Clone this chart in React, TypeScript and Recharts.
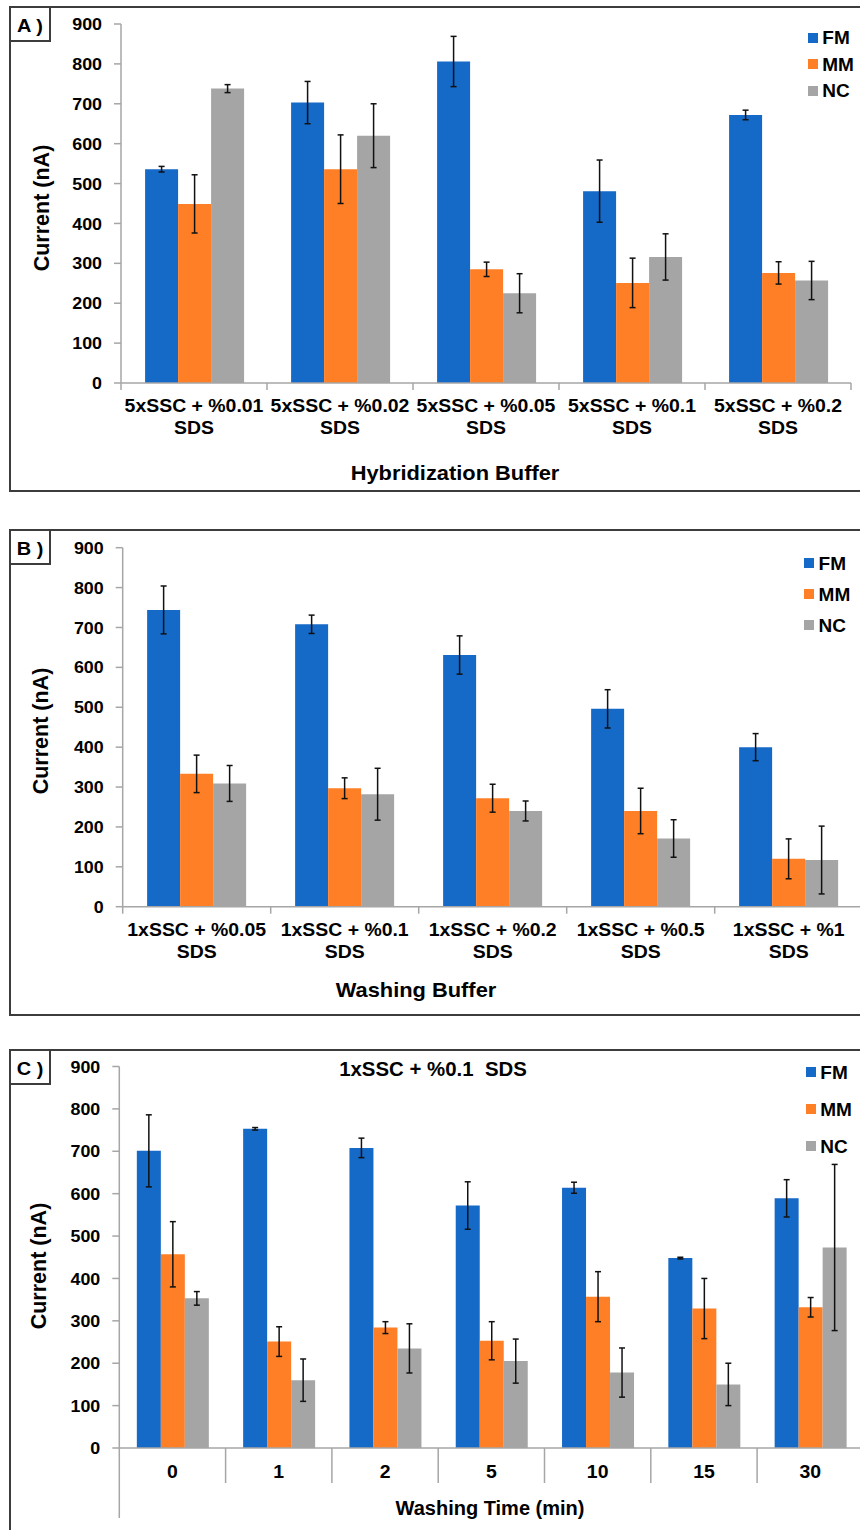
import React from 'react';
import { BarChart, Bar, XAxis, YAxis, ErrorBar, Legend } from 'recharts';

const FONT = '"Liberation Sans", Arial, sans-serif';
const BLUE = '#1569C7';
const ORANGE = '#FF7F27';
const GRAY = '#A5A5A5';
const AXIS = '#A6A6A6';
const FRAME = '#3c3c3c';

// A) hybridization buffer
const hybCategories = ['5xSSC + %0.01\nSDS', '5xSSC + %0.02\nSDS', '5xSSC + %0.05\nSDS', '5xSSC + %0.1\nSDS', '5xSSC + %0.2\nSDS'];
const hybFM = [536, 703, 806, 481, 672];
const hybFMErr = [7, 53, 63, 78, 12];
const hybMM = [449, 536, 285, 251, 276];
const hybMMErr = [73, 86, 18, 62, 28];
const hybNC = [738, 620, 225, 316, 257];
const hybNCErr = [10, 80, 49, 58, 48];

// B) washing buffer
const washCategories = ['1xSSC + %0.05\nSDS', '1xSSC + %0.1\nSDS', '1xSSC + %0.2\nSDS', '1xSSC + %0.5\nSDS', '1xSSC + %1\nSDS'];
const washFM = [744, 708, 631, 496, 400];
const washFMErr = [60, 23, 48, 48, 34];
const washMM = [333, 297, 272, 240, 120];
const washMMErr = [47, 26, 35, 57, 50];
const washNC = [309, 282, 240, 171, 117];
const washNCErr = [45, 65, 25, 47, 85];

// C) washing time (min), 1xSSC + %0.1 SDS
const timeCategories = ['0', '1', '2', '5', '10', '15', '30'];
const timeFM = [701, 753, 708, 572, 614, 448, 589];
const timeFMErr = [85, 3, 23, 56, 13, 2, 44];
const timeMM = [457, 251, 284, 253, 357, 329, 332];
const timeMMErr = [77, 35, 14, 45, 59, 71, 23];
const timeNC = [353, 160, 235, 205, 178, 150, 473];
const timeNCErr = [16, 50, 58, 52, 58, 50, 196];

const yTicks = [0, 100, 200, 300, 400, 500, 600, 700, 800, 900];

function buildRows(cats: string[], fm: number[], fmE: number[], mm: number[], mmE: number[], nc: number[], ncE: number[]) {
  return cats.map((cat, i) => ({
    cat,
    FM: fm[i], FMe: fmE[i],
    MM: mm[i], MMe: mmE[i],
    NC: nc[i], NCe: ncE[i],
  }));
}

const makeXTick = (count: number, bw: number, tickLen: number, firstLen: number, offsets: number[]) => (props: any) => {
  const { x, y, payload, index } = props;
  const lines = String(payload.value).split('\n');
  const left = x - bw / 2;
  const right = x + bw / 2;
  return (
    <g>
      <line x1={left} x2={left} y1={y} y2={y + (index === 0 ? firstLen : tickLen)} stroke={AXIS} strokeWidth={1.5} />
      {index === count - 1 && <line x1={right} x2={right} y1={y} y2={y + tickLen} stroke={AXIS} strokeWidth={1.5} />}
      {lines.map((t, i) => (
        <text key={i} transform={`translate(${x},${y + offsets[i]}) scale(1.08,1)`} textAnchor="middle" dy="0.36em"
          fontSize={18} fontWeight="bold" fontFamily={FONT} fill="#000">{t}</text>
      ))}
    </g>
  );
};

const YTick = (props: any) => {
  const { x, y, payload } = props;
  return (
    <text transform={`translate(${x},${y}) scale(1.05,1)`} textAnchor="end" dy="0.36em"
      fontSize={17} fontWeight="bold" fontFamily={FONT} fill="#000">{payload.value}</text>
  );
};

function Txt({ x, y, size, sx = 1, rotate = false, children }: any) {
  return (
    <div style={{
      position: 'absolute', left: x, top: y, fontSize: size, fontWeight: 'bold', fontFamily: FONT,
      lineHeight: 1, whiteSpace: 'pre', color: '#000',
      transform: rotate ? 'translate(-50%,-50%) rotate(-90deg)' : `translate(-50%,-50%) scaleX(${sx})`,
    }}>{children}</div>
  );
}

function LegendBox({ payload, gap }: any) {
  return (
    <div>
      {(payload || []).map((p: any) => (
        <div key={p.value} style={{ height: gap, display: 'flex', alignItems: 'center' }}>
          <span style={{ width: 10, height: 10, background: p.color, display: 'inline-block', marginRight: 4.6 }} />
          <span style={{ fontSize: 19, fontWeight: 'bold', fontFamily: FONT, color: '#000', lineHeight: 1 }}>{p.value}</span>
        </div>
      ))}
    </div>
  );
}

function Panel(p: any) {
  const plotW = p.width - p.margin.left - p.margin.right - 60;
  const bw = plotW / p.rows.length;
  const xTick = makeXTick(p.rows.length, bw, p.tickLen, p.firstLen, p.offsets);
  return (
    <div style={{ position: 'absolute', left: 0, top: p.top, width: p.width, height: p.height }}>
      <BarChart width={p.width} height={p.height} data={p.rows} margin={p.margin} barCategoryGap="16.5%" barGap={0}>
        <XAxis dataKey="cat" interval={0} height={p.xHeight} axisLine={{ stroke: AXIS, strokeWidth: 1.5 }}
          tickLine={false} tickSize={0} tickMargin={0} tick={xTick} />
        <YAxis domain={[0, 900]} ticks={yTicks} interval={0} width={60} axisLine={{ stroke: AXIS, strokeWidth: 1.5 }}
          tickLine={{ stroke: AXIS, strokeWidth: 1.5 }} tickSize={7} tickMargin={12} tick={YTick} />
        {/* centred + middle so the legend reserves no room from the plot */}
        <Legend layout="vertical" verticalAlign="middle" align="center"
          wrapperStyle={{ left: p.legendX, top: p.legendTop, right: 'auto', bottom: 'auto', width: 60, margin: 0 }}
          content={(lp: any) => <LegendBox payload={lp.payload} gap={p.legendGap} />} />
        <Bar dataKey="FM" name="FM" fill={BLUE} isAnimationActive={false}>
          <ErrorBar dataKey="FMe" width={3} stroke="#111" strokeWidth={1.5} />
        </Bar>
        <Bar dataKey="MM" name="MM" fill={ORANGE} isAnimationActive={false}>
          <ErrorBar dataKey="MMe" width={3} stroke="#111" strokeWidth={1.5} />
        </Bar>
        <Bar dataKey="NC" name="NC" fill={GRAY} isAnimationActive={false}>
          <ErrorBar dataKey="NCe" width={3} stroke="#111" strokeWidth={1.5} />
        </Bar>
      </BarChart>
    </div>
  );
}

function Frame({ top, bottom, letter }: any) {
  return (
    <>
      <div style={{ position: 'absolute', left: 9, top, width: 900, height: bottom - top, border: `2px solid ${FRAME}`, boxSizing: 'border-box' }} />
      <div style={{ position: 'absolute', left: 9, top, width: 42, height: 36, border: `2px solid ${FRAME}`, boxSizing: 'border-box' }} />
      <Txt x={30} y={top + 19} size={19} sx={1.05}>{letter}</Txt>
    </>
  );
}

export default function App() {
  const hybRows = buildRows(hybCategories, hybFM, hybFMErr, hybMM, hybMMErr, hybNC, hybNCErr);
  const washRows = buildRows(washCategories, washFM, washFMErr, washMM, washMMErr, washNC, washNCErr);
  const timeRows = buildRows(timeCategories, timeFM, timeFMErr, timeMM, timeMMErr, timeNC, timeNCErr);

  return (
    <div style={{ position: 'absolute', left: 0, top: 0, width: 860, height: 1530, overflow: 'hidden', background: '#fff' }}>
      <Frame top={6} bottom={492} letter="A )" />
      <Frame top={529} bottom={1016} letter="B )" />
      <Frame top={1049} bottom={1600} letter="C )" />

      <Panel top={0} height={495} width={860} rows={hybRows}
        margin={{ top: 24, right: 9, left: 61, bottom: 0 }} xHeight={112}
        tickLen={7} firstLen={7} offsets={[22.7, 44.4]}
        legendX={807.7} legendTop={24.5} legendGap={26.5} />
      <Panel top={500} height={520} width={866} rows={washRows}
        margin={{ top: 47.7, right: 3.3, left: 62.7, bottom: 0 }} xHeight={113.3}
        tickLen={7} firstLen={7} offsets={[23.3, 45]}
        legendX={804} legendTop={47.8} legendGap={31} />
      <Panel top={1020} height={510} width={866} rows={timeRows}
        margin={{ top: 46.5, right: 2.6, left: 59.3, bottom: 0 }} xHeight={82}
        tickLen={35} firstLen={70} offsets={[24]}
        legendX={805.7} legendTop={33.8} legendGap={37} />

      <Txt x={42.5} y={208} size={21.5} rotate>Current (nA)</Txt>
      <Txt x={42.4} y={731} size={21.5} rotate>Current (nA)</Txt>
      <Txt x={40} y={1266} size={21.5} rotate>Current (nA)</Txt>

      <Txt x={455} y={471.7} size={21} sx={1.04}>Hybridization Buffer</Txt>
      <Txt x={416} y={989} size={21} sx={1.04}>Washing Buffer</Txt>
      <Txt x={432.5} y={1069.3} size={20} sx={1.02}>{'1xSSC + %0.1  SDS'}</Txt>
      <Txt x={490} y={1507.7} size={20}>Washing Time (min)</Txt>
    </div>
  );
}
